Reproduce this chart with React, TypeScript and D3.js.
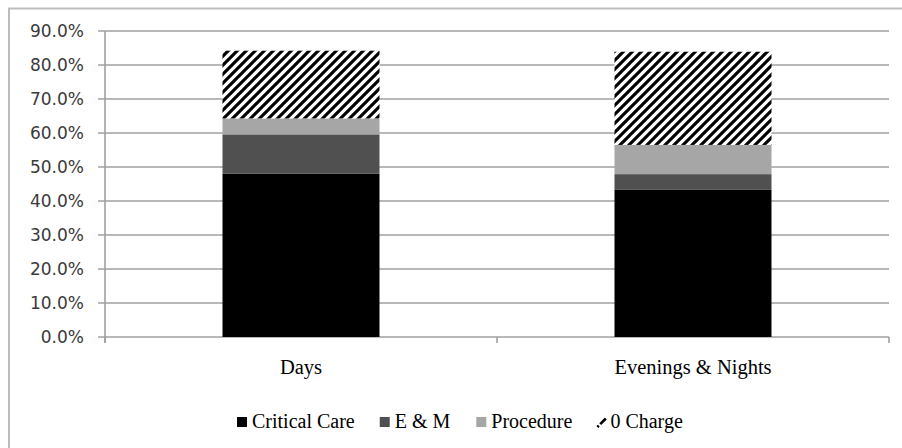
import React, { useEffect, useRef } from "react";
import * as d3 from "d3";

const categories = ["Days", "Evenings & Nights"];
const seriesNames = ["Critical Care", "E & M", "Procedure", "0 Charge"];
const criticalCare = [48.0, 43.4];
const eAndM = [11.6, 4.5];
const procedure = [4.7, 8.6];
const zeroCharge = [19.9, 27.4];
const yTicks = [0, 10, 20, 30, 40, 50, 60, 70, 80, 90];
const fills = ["#000000", "#505050", "#a6a6a6", "url(#hatch)"];

const W = 902;
const H = 448;
const M = { left: 105, right: 889, top: 31, bottom: 337 };
const SERIF = "Liberation Serif, Times New Roman, DejaVu Serif, serif";

export default function App() {
  const ref = useRef<SVGSVGElement | null>(null);

  useEffect(() => {
    const svg = d3.select(ref.current);
    svg.selectAll("*").remove();

    const defs = svg.append("defs");
    const pat = defs
      .append("pattern")
      .attr("id", "hatch")
      .attr("patternUnits", "userSpaceOnUse")
      .attr("width", 9)
      .attr("height", 9);
    pat.append("rect").attr("width", 9).attr("height", 9).attr("fill", "#fff");
    pat
      .append("path")
      .attr("d", "M-2,11 L11,-2 M-4,4 L4,-4 M5,13 L13,5")
      .attr("stroke", "#000")
      .attr("stroke-width", 3.1);

    // outer border
    svg
      .append("rect")
      .attr("x", 9)
      .attr("y", 8.5)
      .attr("width", W + 20)
      .attr("height", H + 20)
      .attr("fill", "#fff")
      .attr("stroke", "#bdbdbd")
      .attr("stroke-width", 2);

    const xOuter = d3.scaleBand<string>().domain(categories).range([M.left, M.right]);
    const y = d3.scaleLinear().domain([0, 90]).range([M.bottom, M.top]);

    const gridColor = "#a0a0a0";

    svg
      .append("g")
      .selectAll("line")
      .data(yTicks)
      .join("line")
      .attr("x1", M.left - 7)
      .attr("x2", M.right)
      .attr("y1", (d) => y(d))
      .attr("y2", (d) => y(d))
      .attr("stroke", gridColor)
      .attr("stroke-width", 1.6);

    svg
      .append("line")
      .attr("x1", M.left)
      .attr("x2", M.left)
      .attr("y1", M.top)
      .attr("y2", M.bottom + 6)
      .attr("stroke", gridColor)
      .attr("stroke-width", 1.6);

    const xTickPos = [M.left, ...categories.map((c) => (xOuter(c) as number) + xOuter.bandwidth())];
    svg
      .append("g")
      .selectAll("line")
      .data(xTickPos)
      .join("line")
      .attr("x1", (d) => d)
      .attr("x2", (d) => d)
      .attr("y1", M.bottom)
      .attr("y2", M.bottom + 6)
      .attr("stroke", gridColor)
      .attr("stroke-width", 1.6);

    svg
      .append("g")
      .selectAll("text")
      .data(yTicks)
      .join("text")
      .attr("x", 84)
      .attr("y", (d) => y(d))
      .attr("dy", "0.36em")
      .attr("text-anchor", "end")
      .style("font-family", "DejaVu Sans, sans-serif")
      .style("font-size", "17px")
      .attr("fill", "#3a3a3a")
      .text((d) => d3.format(".1f")(d) + "%");

    const rows = categories.map((c, i) => ({
      cat: c,
      "Critical Care": criticalCare[i],
      "E & M": eAndM[i],
      Procedure: procedure[i],
      "0 Charge": zeroCharge[i],
    }));
    const stack = d3.stack<any>().keys(seriesNames);
    const layers = stack(rows);

    const bw = 157;
    layers.forEach((layer, li) => {
      svg
        .append("g")
        .selectAll("rect")
        .data(layer)
        .join("rect")
        .attr("x", (d: any) => (xOuter(d.data.cat) as number) + xOuter.bandwidth() / 2 - bw / 2)
        .attr("width", bw)
        .attr("y", (d: any) => y(d[1]))
        .attr("height", (d: any) => y(d[0]) - y(d[1]))
        .attr("fill", fills[li]);
    });

    svg
      .append("g")
      .selectAll("text")
      .data(categories)
      .join("text")
      .attr("x", (d) => (xOuter(d) as number) + xOuter.bandwidth() / 2)
      .attr("y", 374)
      .attr("text-anchor", "middle")
      .style("font-family", SERIF)
      .style("font-size", "20.5px")
      .attr("fill", "#000")
      .text((d) => d);

    const lg = svg.append("g");
    let cx = 237;
    const gaps = [25, 26, 23, 0];
    seriesNames.forEach((name, i) => {
      if (i < 3) {
        lg.append("rect")
          .attr("x", cx)
          .attr("y", 417)
          .attr("width", 10)
          .attr("height", 10)
          .attr("fill", fills[i]);
      } else {
        lg.append("path")
          .attr("d", `M${cx + 2},${427} L${cx + 11},${418}`)
          .attr("stroke", "#000")
          .attr("stroke-width", 2.6)
          .attr("stroke-dasharray", "2,2,8");
      }
      const t = lg
        .append("text")
        .attr("x", cx + 15)
        .attr("y", 428)
        .style("font-family", SERIF)
        .style("font-size", "20px")
        .attr("fill", "#000")
        .text(name);
      const len = (t.node() as SVGTextElement).getComputedTextLength();
      cx = cx + 15 + len + gaps[i];
    });
  }, []);

  return (
    <svg
      ref={ref}
      width={W}
      height={H}
      style={{ position: "absolute", left: 0, top: 0, background: "#fff" }}
    />
  );
}
